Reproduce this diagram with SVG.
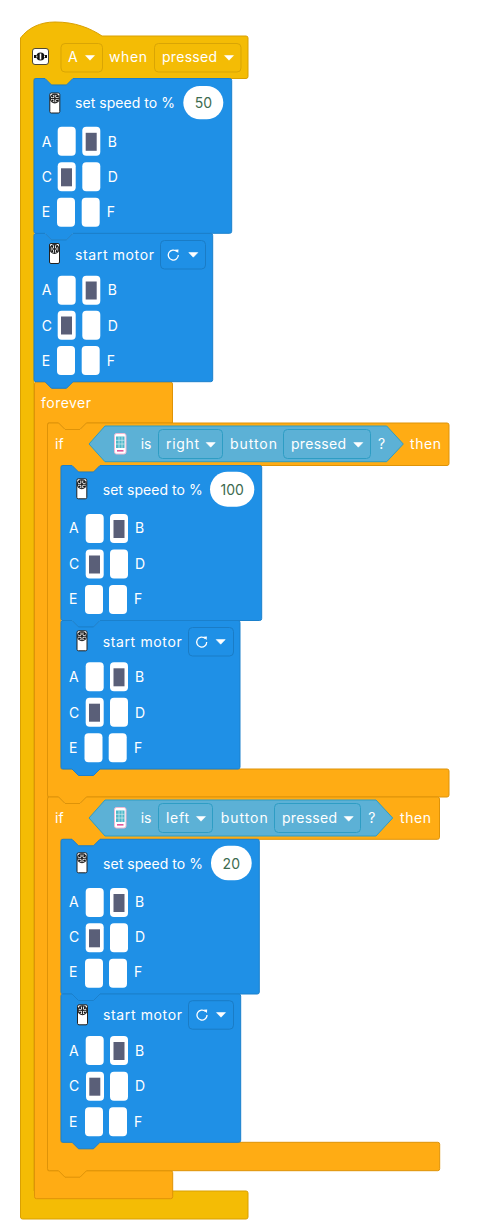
<svg xmlns="http://www.w3.org/2000/svg" width="494" height="1229" viewBox="0 0 494 1229">
<style>
text{font-family:"Inter","Open Sans","Liberation Sans",sans-serif;font-size:14px;fill:#fff}
.v{fill:#3d6b4f;text-anchor:middle}
.yel{fill:#F4BC05;stroke:#D9A003;stroke-width:1}
.org{fill:#FFAC14;stroke:#DE9308;stroke-width:1}
.blu{fill:#1F90E6;stroke:#1B80CC;stroke-width:1}
.cell{fill:#fff;rx:4px;width:18px;height:29px}
.on{fill:#5A5F78;width:11px;height:18px}
.oval{fill:#fff}
.ddy{fill:#F4BC05;stroke:#D9A504}
.ddb{fill:#1F90E6;stroke:#1A7CC6}
.ddh{fill:#5CB1D6;stroke:#2E9DC4}
.hex{fill:#5CB1D6;stroke:#2E9DC4}
.rot{fill:none;stroke:#fff;stroke-width:1.3}
</style>
<defs>
<path id="arr" d="M-4.500-2.200h9L0 2.400z" fill="#fff" stroke="#fff" stroke-width=".6" stroke-linejoin="round"/>
<g id="mot">
<rect x=".5" y=".5" width="10" height="20" rx="1.5" fill="#fff" stroke="#222"/>
<circle cx="5.500" cy="6" r="4.400" fill="#fff" stroke="#222" stroke-width="1.100"/>
<path d="M5.500 1.600v8.800M1.100 6h8.800" stroke="#222" stroke-width="1"/>
<circle cx="3.200" cy="3.800" r="1.100" fill="#111"/><circle cx="7.800" cy="3.800" r="1.100" fill="#111"/><circle cx="3.200" cy="8.200" r="1.100" fill="#111"/><circle cx="7.800" cy="8.200" r="1.100" fill="#111"/>
<circle cx="5.500" cy="6" r="1.200" fill="#222"/>
</g>
<g id="rot">
<path class="rot" d="M3.600-3.400A5 5 0 1 0 5 0"/>
<path d="M1.600-5.200l3.600-.2-.3 3.400z" fill="#fff"/>
</g>
<g id="phone">
<rect x=".5" y=".5" width="11.500" height="20.500" rx="2" fill="#fff" stroke="#f0b8d2"/>
<rect x="2" y="3.500" width="8.500" height="11.500" fill="#4fb8c9"/>
<path d="M2 7.300h8.500M2 11h8.500M5 3.500v11.500M8 3.500v11.500" stroke="#d5edf2" stroke-width=".7"/>
<path d="M3 17.800h6.500" stroke="#e0559a" stroke-width="1.600"/>
</g>
</defs>

<g id="hat-when-pressed">
<path class="yel" d="M20.500 38C28 28 40 22 55 22C75 22 90 28 102 36H246a2 2 0 0 1 2 2V76.500a2 2 0 0 1-2 2H73l-6.500 6.500h-15L45 78.500H34V1191H246a2 2 0 0 1 2 2V1217a2 2 0 0 1-2 2H22.500a2 2 0 0 1-2-2z"/>
<rect x="32.500" y="48.500" width="16" height="16" rx="2.500" fill="#fff" stroke="#222" stroke-width=".8"/>
<path d="M34 56.500h13" stroke="#111" stroke-width="3"/>
<circle cx="40.500" cy="56.500" r="4" fill="#111"/><rect x="39.700" y="53.500" width="1.600" height="6" fill="#fff"/>
<rect x="36.300" y="55.500" width="1" height="2" fill="#fff"/><rect x="44" y="55.500" width="1" height="2" fill="#fff"/>
<rect class="ddy" x="61" y="43.500" width="41.500" height="28.500" rx="4"/>
<text x="68" y="62">A</text><use href="#arr" x="90" y="57.800"/>
<text x="109" y="62" textLength="38">when</text>
<rect class="ddy" x="154.500" y="43.500" width="86.500" height="28.500" rx="4"/>
<text x="162" y="62" textLength="55">pressed</text><use href="#arr" x="229" y="57.800"/>
</g>

<g id="forever">
<path class="org" d="M36.500 382H45l6.500 6.500h15L73 382H170.500a2 2 0 0 1 2 2V423H86.500l-6.500 6.500h-15L58.500 423H48V1170.700H170.700a2 2 0 0 1 2 2V1196.700a2 2 0 0 1-2 2H36.500a2 2 0 0 1-2-2V384a2 2 0 0 1 2-2z"/>
<text x="41" y="408" textLength="50">forever</text>
</g>

<g id="if-right">
<path class="org" d="M49.500 423H58.500l6.500 6.500h15L86.500 423H447a2 2 0 0 1 2 2V463.500a2 2 0 0 1-2 2H100l-6.500 6.500h-15L72 465.500H61V769H447a2 2 0 0 1 2 2V795a2 2 0 0 1-2 2H86.500L80 803.500H65L58.500 797H49.500a2 2 0 0 1-2-2V425a2 2 0 0 1 2-2z"/>
<text x="55" y="449">if</text>
<path class="hex" d="M89 444L105 426H386.700L403.300 444L386.700 461.700H105z"/>
<use href="#phone" x="114" y="433"/>
<text x="140.700" y="449">is</text>
<rect class="ddh" x="158.500" y="429.500" width="64" height="29" rx="4"/>
<text x="166" y="449" textLength="33">right</text><use href="#arr" x="210.700" y="444.800"/>
<text x="230" y="449" textLength="47">button</text>
<rect class="ddh" x="283.500" y="429.500" width="87" height="29" rx="4"/>
<text x="291" y="449" textLength="55">pressed</text><use href="#arr" x="358.300" y="444.800"/>
<text x="378" y="449">?</text>
<text x="410" y="449" textLength="31">then</text>
</g>

<g id="if-left">
<path class="org" d="M49.500 797H58.500l6.500 6.500h15L86.500 797H437.500a2 2 0 0 1 2 2V837.300a2 2 0 0 1-2 2H100l-6.500 6.500h-15L72 839.300H61V1142.300H437.700a2 2 0 0 1 2 2V1168.700a2 2 0 0 1-2 2H86.500L80 1177.200H65L58.500 1170.700H49.500a2 2 0 0 1-2-2V799a2 2 0 0 1 2-2z"/>
<text x="55" y="823">if</text>
<path class="hex" d="M89 818L105 800H376L392.700 818L376 836H105z"/>
<use href="#phone" x="114" y="807"/>
<text x="140.700" y="823">is</text>
<rect class="ddh" x="158.500" y="803.500" width="54" height="29" rx="4"/>
<text x="166" y="823" textLength="23">left</text><use href="#arr" x="201" y="818.800"/>
<text x="220.700" y="823" textLength="47">button</text>
<rect class="ddh" x="274.500" y="803.500" width="86" height="29" rx="4"/>
<text x="282" y="823" textLength="55">pressed</text><use href="#arr" x="348.700" y="818.800"/>
<text x="368.300" y="823">?</text>
<text x="400" y="823" textLength="31">then</text>
</g>

<g id="speed-50">
<path class="blu" d="M36 78.500H45l6.500 6.500h15L73 78.500H229.700a2 2 0 0 1 2 2V231.300a2 2 0 0 1-2 2H73l-6.500 6.500h-15L45 233.300H36a2 2 0 0 1-2-2V80.500a2 2 0 0 1 2-2z"/>
<use href="#mot" x="49.300" y="92.500"/>
<text x="75" y="108" textLength="100">set speed to %</text>
<rect class="oval" x="183.300" y="86" width="40" height="33.300" rx="16.600"/>
<text class="v" x="203.300" y="108">50</text>
<text x="41.700" y="146.700">A</text><rect class="cell" x="57.700" y="126.700"/><rect class="cell" x="82.300" y="126.700"/><rect class="on" x="85.700" y="132.800"/><text x="107.700" y="146.700">B</text>
<text x="41.700" y="181.700">C</text><rect class="cell" x="57.700" y="162.300"/><rect class="cell" x="82.300" y="162.300"/><rect class="on" x="61" y="168.300"/><text x="107.700" y="181.700">D</text>
<text x="41.700" y="217">E</text><rect class="cell" x="57" y="197.700"/><rect class="cell" x="81.700" y="197.700"/><text x="106.700" y="217">F</text>
</g>

<g id="motor-1">
<path class="blu" d="M36 233.500H45l6.500 6.500h15L73 233.500H210.700a2 2 0 0 1 2 2V379.700a2 2 0 0 1-2 2H73l-6.500 6.500h-15L45 381.700H36a2 2 0 0 1-2-2V235.500a2 2 0 0 1 2-2z"/>
<use href="#mot" x="49" y="243"/>
<text x="75" y="260" textLength="79">start motor</text>
<rect class="ddb" x="160.500" y="240.500" width="45" height="28.500" rx="4"/>
<use href="#rot" x="173.300" y="255"/><use href="#arr" x="193.300" y="254.800"/>
<text x="41.700" y="295">A</text><rect class="cell" x="57.700" y="275.700"/><rect class="cell" x="82.300" y="275.700"/><rect class="on" x="85.700" y="281.500"/><text x="107.700" y="295">B</text>
<text x="41.700" y="330.700">C</text><rect class="cell" x="57.700" y="310.700"/><rect class="cell" x="82.300" y="310.700"/><rect class="on" x="61" y="316.500"/><text x="107.700" y="330.700">D</text>
<text x="41.700" y="366">E</text><rect class="cell" x="57" y="346"/><rect class="cell" x="81.700" y="346"/><text x="106.700" y="366">F</text>
</g>

<g id="speed-100">
<path class="blu" d="M63 465.500H72l6.500 6.500h15L100 465.500H259.700a2 2 0 0 1 2 2V618.500a2 2 0 0 1-2 2H100l-6.500 6.500h-15L72 620.500H63a2 2 0 0 1-2-2V467.500a2 2 0 0 1 2-2z"/>
<use href="#mot" x="76.300" y="478.300"/>
<text x="102.700" y="495" textLength="100">set speed to %</text>
<rect class="oval" x="210" y="471.700" width="44.300" height="35" rx="17.500"/>
<text class="v" x="232.200" y="495">100</text>
<text x="69" y="533">A</text><rect class="cell" x="85.700" y="514"/><rect class="cell" x="110" y="514"/><rect class="on" x="113.500" y="520"/><text x="135" y="533">B</text>
<text x="69" y="568.500">C</text><rect class="cell" x="85.700" y="549.500"/><rect class="cell" x="110" y="549.500"/><rect class="on" x="89" y="555.500"/><text x="135" y="568.500">D</text>
<text x="69" y="604">E</text><rect class="cell" x="85" y="585"/><rect class="cell" x="109" y="585"/><text x="134" y="604">F</text>
</g>

<g id="motor-2">
<path class="blu" d="M63 620.500H72l6.500 6.500h15L100 620.500H238a2 2 0 0 1 2 2V767a2 2 0 0 1-2 2H100l-6.500 6.500h-15L72 769H63a2 2 0 0 1-2-2V622.500a2 2 0 0 1 2-2z"/>
<use href="#mot" x="76.500" y="630.300"/>
<text x="102.700" y="647" textLength="79">start motor</text>
<rect class="ddb" x="188.500" y="627.500" width="45" height="28.500" rx="4"/>
<use href="#rot" x="201.700" y="642"/><use href="#arr" x="220.700" y="641.800"/>
<text x="69" y="681.700">A</text><rect class="cell" x="85.700" y="662.300"/><rect class="cell" x="110" y="662.300"/><rect class="on" x="113.500" y="668.300"/><text x="135" y="681.700">B</text>
<text x="69" y="717.700">C</text><rect class="cell" x="85.700" y="697.700"/><rect class="cell" x="110" y="697.700"/><rect class="on" x="89" y="703.700"/><text x="135" y="717.700">D</text>
<text x="69" y="752.700">E</text><rect class="cell" x="84.500" y="733.300"/><rect class="cell" x="108.700" y="733.300"/><text x="134" y="752.700">F</text>
</g>

<g id="speed-20">
<path class="blu" d="M63 839.300H72l6.500 6.500h15L100 839.300H257.300a2 2 0 0 1 2 2V992a2 2 0 0 1-2 2H100l-6.500 6.500h-15L72 994H63a2 2 0 0 1-2-2V841.300a2 2 0 0 1 2-2z"/>
<use href="#mot" x="76.500" y="852.300"/>
<text x="103" y="869" textLength="100">set speed to %</text>
<rect class="oval" x="211" y="845.700" width="40.700" height="34.500" rx="17"/>
<text class="v" x="231.300" y="869">20</text>
<text x="69" y="907">A</text><rect class="cell" x="85.700" y="888"/><rect class="cell" x="110" y="888"/><rect class="on" x="113.500" y="894"/><text x="135" y="907">B</text>
<text x="69" y="942">C</text><rect class="cell" x="85.700" y="923.300"/><rect class="cell" x="110" y="923.300"/><rect class="on" x="89" y="929.300"/><text x="135" y="942">D</text>
<text x="69" y="977">E</text><rect class="cell" x="85" y="958.700"/><rect class="cell" x="109" y="958.700"/><text x="134" y="977">F</text>
</g>

<g id="motor-3">
<path class="blu" d="M63 994H72l6.500 6.500h15L100 994H238.700a2 2 0 0 1 2 2V1140.300a2 2 0 0 1-2 2H100l-6.500 6.500h-15L72 1142.300H63a2 2 0 0 1-2-2V996a2 2 0 0 1 2-2z"/>
<use href="#mot" x="77" y="1004.300"/>
<text x="103" y="1020" textLength="79">start motor</text>
<rect class="ddb" x="188.500" y="1000.700" width="45" height="28.500" rx="4"/>
<use href="#rot" x="202" y="1015"/><use href="#arr" x="221" y="1014.800"/>
<text x="69" y="1056">A</text><rect class="cell" x="85.700" y="1036"/><rect class="cell" x="110" y="1036"/><rect class="on" x="113.500" y="1042"/><text x="135" y="1056">B</text>
<text x="69" y="1091">C</text><rect class="cell" x="86" y="1071.700"/><rect class="cell" x="110" y="1071.700"/><rect class="on" x="89.300" y="1077.700"/><text x="135" y="1091">D</text>
<text x="69" y="1126.700">E</text><rect class="cell" x="85" y="1107.300"/><rect class="cell" x="109" y="1107.300"/><text x="134" y="1126.700">F</text>
</g>
<g id="connectors"/>
</svg>
